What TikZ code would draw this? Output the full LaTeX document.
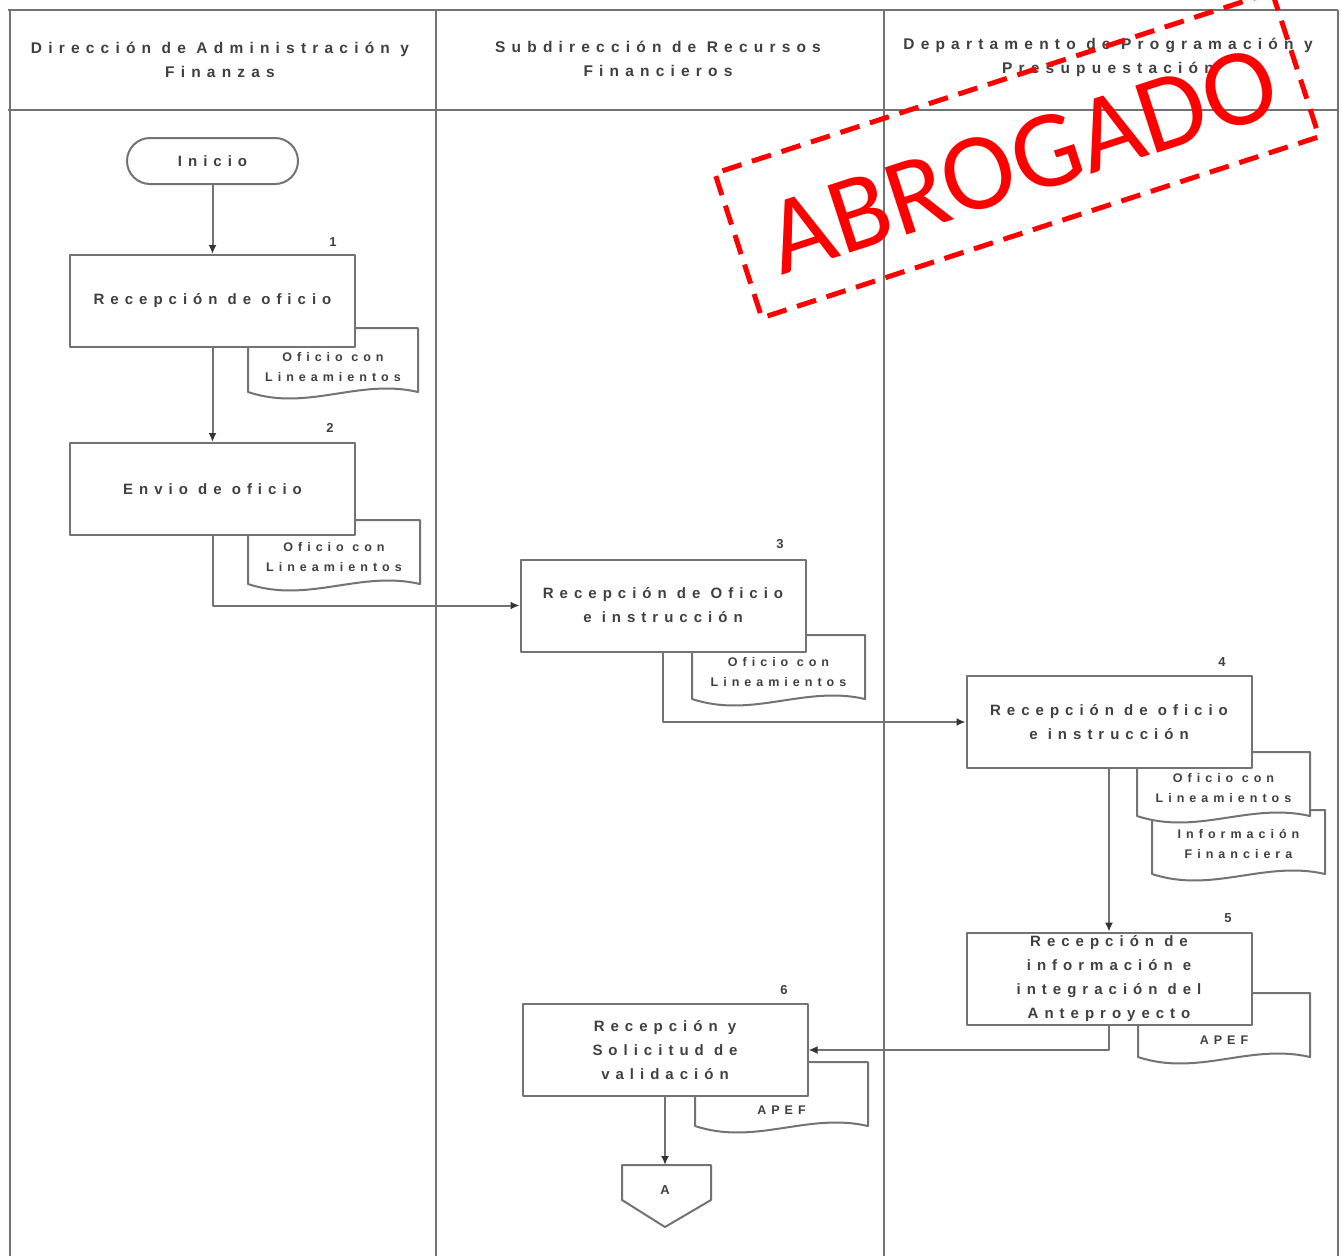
\documentclass[tikz,border=0pt]{standalone}
\usepackage{fontspec}
\setmainfont{Liberation Sans}
\newfontfamily\espaciada[LetterSpace=40]{Liberation Sans Bold}
\newfontfamily\letrasello{Carlito}
\usetikzlibrary{arrows.meta}
\definecolor{linea}{gray}{0.45}
\definecolor{textogris}{gray}{0.25}
\definecolor{rojosello}{RGB}{255,0,0}

% documento: nombre, x izq, y sup, x der, alto del texto, texto
\newcommand{\documento}[6]{%
  \draw[caja] (#2,#3) -- (#4,#3) -- (#4,#3+64)
    .. controls ({#4-0.35*(#4-#2)},#3+50) and ({#2+0.35*(#4-#2)},#3+84) .. (#2,#3+64) -- cycle;
  \node[textodoc] (#1) at ({(#2+#4)/2},#3+#5) {#6};
}

\begin{document}
\begin{tikzpicture}[x=1pt,y=-1pt,line join=round,
  marco/.style={draw=linea,line width=2.6pt},
  caja/.style={draw=linea,line width=2pt,fill=white},
  proceso/.style={caja,minimum width=285pt,minimum height=92pt,align=center,
    text=textogris,font=\espaciada\fontsize{15}{24}\selectfont},
  inicio/.style={caja,rounded corners=23pt,minimum width=171pt,minimum height=46pt,
    text=textogris,font=\espaciada\fontsize{15}{24}\selectfont},
  textodoc/.style={align=center,text=textogris,font=\espaciada\fontsize{12.5}{20}\selectfont},
  numero/.style={text=textogris,font=\espaciada\fontsize{13}{13}\selectfont},
  encabezado/.style={align=center,text=textogris,font=\espaciada\fontsize{15.5}{24}\selectfont},
  flujo/.style={draw=linea,line width=2pt,-{Latex[length=9pt,width=8pt,fill=black!80,color=black!80]}}]
\useasboundingbox (0,0) rectangle (1342,1256);
\fill[white] (0,0) rectangle (1342,1256);

% carriles
\draw[marco]
(8,10) -- (1338,10)
(8,110) -- (1338,110)
(10,10) -- (10,1256)
(436,10) -- (436,1256)
(884,10) -- (884,1256)
(1338,10) -- (1338,1256);
\node[encabezado] (carril1) at (220,60) {Dirección de Administración y\\Finanzas};
\node[encabezado] (carril2) at (658,59) {Subdirección de Recursos\\Financieros};
\node[encabezado] (carril3) at (1108,57) {Departamento de Programación y\\Presupuestación};

% documentos
\documento{doc1}{248}{328}{418}{39}{Oficio con\\Lineamientos}
\documento{doc2}{248}{520}{420}{37}{Oficio con\\Lineamientos}
\documento{doc3}{692}{635}{865}{37}{Oficio con\\Lineamientos}
\documento{doc4b}{1152}{810}{1325}{34}{Información\\Financiera}
\documento{doc4a}{1137}{752}{1310}{36}{Oficio con\\Lineamientos}
\documento{doc5}{1138}{993}{1310}{47}{APEF}
\documento{doc6}{695}{1062}{868}{48}{APEF}

% actividades
\node[inicio] (inicio) at (212.5,161) {Inicio};
\node[proceso] (caja1) at (212.5,301) {Recepción de oficio};
\node[proceso] (caja2) at (212.5,489) {Envio de oficio};
\node[proceso] (caja3) at (663,605.5) {Recepción de Oficio\\e instrucción};
\node[proceso] (caja4) at (1109,722) {Recepción de oficio\\e instrucción};
\node[proceso] (caja5) at (1109,979) {Recepción de\\información e\\integración del\\Anteproyecto};
\node[proceso] (caja6) at (665,1050) {Recepción y\\Solicitud de\\validación};
\node[numero] (n1) at (333,242) {1};
\node[numero] (n2) at (330,428) {2};
\node[numero] (n3) at (780,544) {3};
\node[numero] (n4) at (1222,662) {4};
\node[numero] (n5) at (1228,918) {5};
\node[numero] (n6) at (784,990) {6};

% conector fuera de pagina
\coordinate (conA) at (665,1165);
\draw[caja] (622,1165) -- (711,1165) -- (711,1200) -- (665,1227) -- (622,1200) -- cycle;
\node[numero] (letraA) at (665,1190) {A};

% flujo
\draw[flujo] (inicio) -- (caja1);
\draw[flujo] (caja1) -- (caja2);
\draw[flujo] (caja2.south) |- (caja3.west);
\draw[flujo] (caja3.south) |- (caja4.west);
\draw[flujo] (caja4) -- (caja5);
\draw[flujo] (caja5.south) |- (caja6.east);
\draw[flujo] (caja6) -- (conA);

% sello
\node[draw=rojosello,line width=5pt,dash pattern=on 20pt off 11pt,rotate=18,
  minimum width=586pt,minimum height=152pt] (sello) at (1017,155) {};
\node[rotate=18,text=rojosello,font=\letrasello\fontsize{110}{110}\selectfont]
  (abrogado) at (1022,160) {ABROGADO};
\end{tikzpicture}
\end{document}
